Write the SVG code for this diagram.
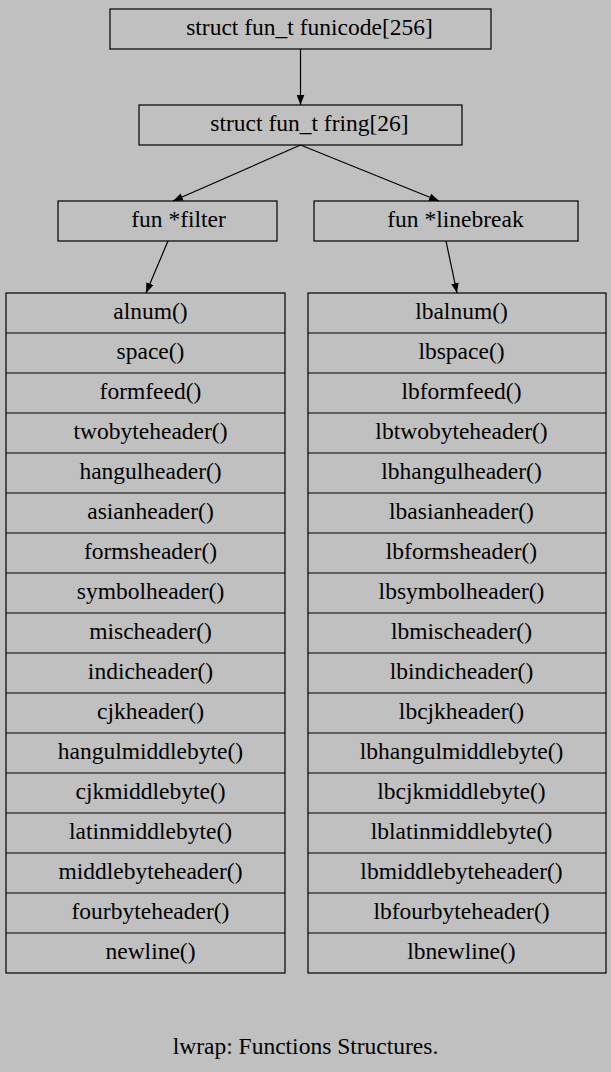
<svg xmlns="http://www.w3.org/2000/svg" width="611" height="1072" viewBox="0 0 611 1072">
<defs>
<style>
text{font-family:"Liberation Serif","Times New Roman",serif;font-size:23.5px;fill:#000;text-anchor:middle}
.b{fill:none;stroke:#000;stroke-width:1.2}
.e{fill:none;stroke:#000;stroke-width:1.2}
</style>
<marker id="ah" viewBox="0 0 10 10" refX="10" refY="5" markerWidth="10" markerHeight="10" markerUnits="userSpaceOnUse" orient="auto"><path d="M0,1.2 L10,5 L0,8.8 Z" fill="#000"/></marker>
</defs>
<rect width="611" height="1072" fill="#c0c0c0"/>
<g id="funicode"><rect class="b" x="110" y="9" width="381" height="40"/><text x="309.5" y="35">struct fun_t funicode[256]</text></g>
<g id="fring"><rect class="b" x="139" y="105" width="323" height="40"/><text x="309.5" y="131">struct fun_t fring[26]</text></g>
<g id="filter"><rect class="b" x="58" y="201" width="219" height="40"/><text x="178.5" y="227">fun *filter</text></g>
<g id="linebreak"><rect class="b" x="314" y="201" width="264" height="40"/><text x="455.5" y="227">fun *linebreak</text></g>
<g id="filterlist">
<rect class="b" x="6" y="293" width="279" height="680"/>
<path class="b" d="M6,333H285M6,373H285M6,413H285M6,453H285M6,493H285M6,533H285M6,573H285M6,613H285M6,653H285M6,693H285M6,733H285M6,773H285M6,813H285M6,853H285M6,893H285M6,933H285"/>
<text x="150.5" y="319">alnum()</text>
<text x="150.5" y="359">space()</text>
<text x="150.5" y="399">formfeed()</text>
<text x="150.5" y="439">twobyteheader()</text>
<text x="150.5" y="479">hangulheader()</text>
<text x="150.5" y="519">asianheader()</text>
<text x="150.5" y="559">formsheader()</text>
<text x="150.5" y="599">symbolheader()</text>
<text x="150.5" y="639">mischeader()</text>
<text x="150.5" y="679">indicheader()</text>
<text x="150.5" y="719">cjkheader()</text>
<text x="150.5" y="759">hangulmiddlebyte()</text>
<text x="150.5" y="799">cjkmiddlebyte()</text>
<text x="150.5" y="839">latinmiddlebyte()</text>
<text x="150.5" y="879">middlebyteheader()</text>
<text x="150.5" y="919">fourbyteheader()</text>
<text x="150.5" y="959">newline()</text>
</g>
<g id="linebreaklist">
<rect class="b" x="308" y="293" width="298" height="680"/>
<path class="b" d="M308,333H606M308,373H606M308,413H606M308,453H606M308,493H606M308,533H606M308,573H606M308,613H606M308,653H606M308,693H606M308,733H606M308,773H606M308,813H606M308,853H606M308,893H606M308,933H606"/>
<text x="461.5" y="319">lbalnum()</text>
<text x="461.5" y="359">lbspace()</text>
<text x="461.5" y="399">lbformfeed()</text>
<text x="461.5" y="439">lbtwobyteheader()</text>
<text x="461.5" y="479">lbhangulheader()</text>
<text x="461.5" y="519">lbasianheader()</text>
<text x="461.5" y="559">lbformsheader()</text>
<text x="461.5" y="599">lbsymbolheader()</text>
<text x="461.5" y="639">lbmischeader()</text>
<text x="461.5" y="679">lbindicheader()</text>
<text x="461.5" y="719">lbcjkheader()</text>
<text x="461.5" y="759">lbhangulmiddlebyte()</text>
<text x="461.5" y="799">lbcjkmiddlebyte()</text>
<text x="461.5" y="839">lblatinmiddlebyte()</text>
<text x="461.5" y="879">lbmiddlebyteheader()</text>
<text x="461.5" y="919">lbfourbyteheader()</text>
<text x="461.5" y="959">lbnewline()</text>
</g>
<g id="edges">
<path class="e" d="M300.5,49V105" marker-end="url(#ah)"/>
<path class="e" d="M300.5,145L173,201" marker-end="url(#ah)"/>
<path class="e" d="M300.5,145L439,201" marker-end="url(#ah)"/>
<path class="e" d="M168,241L146,293" marker-end="url(#ah)"/>
<path class="e" d="M446,241L457,293" marker-end="url(#ah)"/>
</g>
<text x="305.5" y="1054">lwrap: Functions Structures.</text>
</svg>
